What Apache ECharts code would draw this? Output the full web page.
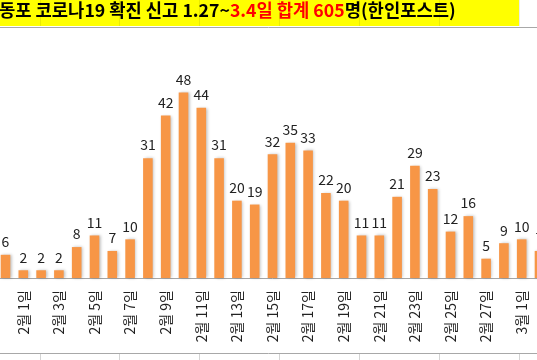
<!DOCTYPE html>
<html><head><meta charset="utf-8">
<script src="https://cdn.jsdelivr.net/npm/echarts@6/dist/echarts.min.js"></script>
<style>html,body{margin:0;padding:0;background:#fff;overflow:hidden;width:537px;height:360px}
#c{position:absolute;left:-20px;top:0;width:580px;height:360px}</style>
</head><body><div id="c"></div>
<script>
var categories = ["1월 31일","2월 1일","2월 2일","2월 3일","2월 4일","2월 5일","2월 6일","2월 7일","2월 8일","2월 9일","2월 10일","2월 11일","2월 12일","2월 13일","2월 14일","2월 15일","2월 16일","2월 17일","2월 18일","2월 19일","2월 20일","2월 21일","2월 22일","2월 23일","2월 24일","2월 25일","2월 26일","2월 27일","2월 28일","3월 1일","3월 2일"];
var cases = [6,2,2,2,8,11,7,10,31,42,48,44,31,20,19,32,35,33,22,20,11,11,21,29,23,12,16,5,9,10,7];
var titleParts = ["동포 코로나19 확진 신고 1.27~", "3.4일 합계 605", "명(한인포스트)"];

var OFF = 20; // canvas starts 20px left of the window
var font = '"Noto Sans CJK KR", "Noto Sans", sans-serif';
var chart = echarts.init(document.getElementById('c'));
var cellX = [40,119,199,279,359,439,519];
var graphics = [
  {type:'rect', shape:{x:OFF,y:0,width:519,height:26}, style:{fill:'#FFFF00'}, z:-1},
  {type:'line', shape:{x1:OFF,y1:27.5,x2:OFF+537,y2:27.5}, style:{stroke:'#a8a8a8',lineWidth:1}},
  {type:'line', shape:{x1:OFF,y1:353.5,x2:OFF+537,y2:353.5}, style:{stroke:'#a8a8a8',lineWidth:1}},
  {type:'text', x:OFF-1, y:1, style:{
    text:'{a|'+titleParts[0]+'}{r|'+titleParts[1]+'}{a|'+titleParts[2]+'}',
    rich:{
      a:{fontSize:17.7,fontWeight:'bold',fill:'#000',fontFamily:font},
      r:{fontSize:17.7,fontWeight:'bold',fill:'#FF0000',fontFamily:font}
    }}}
];
cellX.forEach(function(x){
  graphics.push({type:'line', shape:{x1:OFF+x+0.5,y1:0,x2:OFF+x+0.5,y2:26}, style:{stroke:'rgba(0,0,0,0.08)',lineWidth:1}});
  graphics.push({type:'line', shape:{x1:OFF+x+0.5,y1:354,x2:OFF+x+0.5,y2:360}, style:{stroke:'#d4d4d4',lineWidth:1}});
});

chart.setOption({
  animation:false,
  grid:{left:OFF-3.4, width:551.8, top:46, height:232},
  xAxis:{type:'category', data:categories,
    axisLine:{lineStyle:{color:'#a6a6a6',width:1}},
    axisTick:{show:false},
    axisLabel:{rotate:90, margin:12, fontSize:14, color:'#222', fontFamily:font,
      interval:function(i){return i%2===1;}}},
  yAxis:{type:'value', min:0, max:60, show:false, splitLine:{show:false}},
  series:[{type:'bar', data:cases, barWidth:'54%',
    itemStyle:{color:'#F79646', shadowBlur:3, shadowColor:'rgba(0,0,0,0.25)', shadowOffsetX:1.5, shadowOffsetY:0},
    label:{show:true, position:'top', distance:6, fontSize:14, color:'#222', fontFamily:font}}],
  graphic:graphics
});
</script></body></html>
